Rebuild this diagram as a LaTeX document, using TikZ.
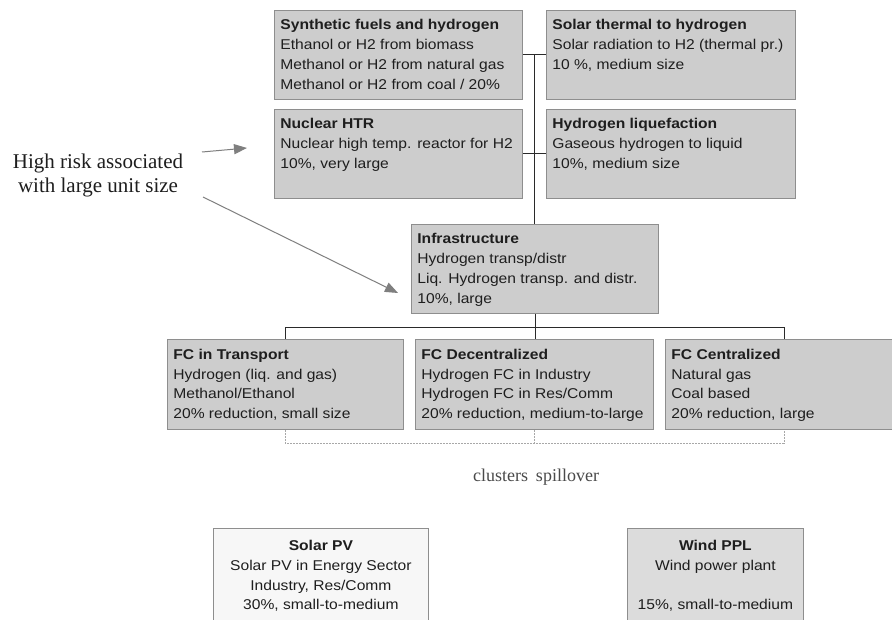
\documentclass[tikz,border=0pt]{standalone}
\usepackage{fontspec}
\usetikzlibrary{arrows.meta,calc}
\newfontfamily\boxfont{Liberation Sans}[FakeStretch=1.1]
\newfontfamily\serfont{Liberation Serif}
\definecolor{boxfill}{HTML}{CDCDCD}
\definecolor{boxline}{HTML}{8E8E8E}
\definecolor{pvfill}{HTML}{F7F7F7}
\definecolor{windfill}{HTML}{DCDCDC}
\definecolor{txt}{HTML}{1E1E1E}
\definecolor{conncol}{HTML}{2A2A2A}
\definecolor{arrcol}{HTML}{7F7F7F}
\definecolor{spillcol}{HTML}{A8A8A8}
\definecolor{spilltxt}{HTML}{4A4A4A}
% #1 height, #2 width, #3 alignment, #4 first-line strut, #5 content
\newcommand\bxt[5]{\parbox[t][#1pt][t]{#2pt}{\boxfont\fontsize{14.2}{19.8}\selectfont\color{txt}#3\rule{0pt}{#4pt}#5}}
\begin{document}
\begin{tikzpicture}[x=1pt,y=-1pt,
  hbox/.style={draw=boxline, fill=boxfill, anchor=north west, inner xsep=6pt, inner ysep=0pt, line width=0.8pt},
  conn/.style={draw=conncol, line width=0.8pt},
  spill/.style={draw=spillcol, line width=0.7pt, dash pattern=on 2pt off 1pt},
  riskarrow/.style={draw=arrcol, line width=1pt, -{Triangle[length=13pt,width=10pt]}, arrcol},
  serif/.style={font=\serfont\fontsize{21}{24}\selectfont, text=txt, align=center}
]
\useasboundingbox (0,0) rectangle (892,620);
\clip (0,0) rectangle (892,620);
\fill[white] (0,0) rectangle (892,620);

\node[hbox] (syn) at (274,10) {\bxt{89}{236}{\raggedright}{19.5}{\textbf{Synthetic fuels and hydrogen}\\Ethanol or H2 from biomass\\Methanol or H2 from natural gas\\Methanol or H2 from coal / 20\%}};
\node[hbox] (solth) at (546,10) {\bxt{89}{237}{\raggedright}{19.5}{\textbf{Solar thermal to hydrogen}\\Solar radiation to H2 (thermal pr.)\\10 \%, medium size}};
\node[hbox] (nuc) at (274,109) {\bxt{89}{236}{\raggedright}{19.5}{\textbf{Nuclear HTR}\\Nuclear high temp. reactor for H2\\10\%, very large}};
\node[hbox] (hliq) at (546,109) {\bxt{89}{237}{\raggedright}{19.5}{\textbf{Hydrogen liquefaction}\\Gaseous hydrogen to liquid\\10\%, medium size}};
\node[hbox] (infra) at (411,224) {\bxt{89}{235}{\raggedright}{19.5}{\textbf{Infrastructure}\\Hydrogen transp/distr\\Liq. Hydrogen transp. and distr.\\10\%, large}};
\node[hbox] (fct) at (167,339) {\bxt{90}{224}{\raggedright}{20}{\textbf{FC in Transport}\\Hydrogen (liq. and gas)\\Methanol/Ethanol\\20\% reduction, small size}};
\node[hbox] (fcd) at (415,339) {\bxt{90}{226}{\raggedright}{20}{\textbf{FC Decentralized}\\Hydrogen FC in Industry\\Hydrogen FC in Res/Comm\\20\% reduction, medium-to-large}};
\node[hbox] (fcc) at (665,339) {\bxt{90}{225}{\raggedright}{20}{\textbf{FC Centralized}\\Natural gas\\Coal based\\20\% reduction, large}};
\node[hbox, fill=pvfill] (spv) at (213,528) {\bxt{100}{203}{\centering}{22}{\textbf{Solar PV}\\Solar PV in Energy Sector\\Industry, Res/Comm\\30\%, small-to-medium}};
\node[hbox, fill=windfill] (wind) at (627,528) {\bxt{100}{164}{\centering}{22}{\textbf{Wind PPL}\\Wind power plant\\\mbox{}\\15\%, small-to-medium}};

% connectors
\draw[conn] (syn.east) -- (solth.west);
\draw[conn] (nuc.east) -- (hliq.west);
\coordinate (j1) at ($(syn.east)!0.5!(solth.west)$);
\draw[conn] (j1) -- (j1 |- infra.north);
\coordinate (bus) at (0,327);
\draw[conn] (infra.south) -- (infra.south |- fcd.north);
\draw[conn] (fct.north) -- (fct.north |- bus) -- (fcc.north |- bus) -- (fcc.north);

% spillover bracket
\coordinate (dl) at (0,443);
\draw[spill] (fct.south) -- (fct.south |- dl) -- (fcc.south |- dl) -- (fcc.south);
\draw[spill] (fcd.south) -- (fcd.south |- dl);
\node[font=\serfont\fontsize{18}{20}\selectfont, text=spilltxt, anchor=base] (spl) at (536,481) {clusters\hspace{8pt}spillover};

% risk annotation
\node[serif] (risk) at (98,175) {High risk associated\\with large unit size};
\coordinate (a1s) at (202,152);
\coordinate (a1e) at (247,148);
\coordinate (a2s) at (203,197);
\coordinate (a2e) at (398,293);
\draw[riskarrow] (a1s) -- (a1e);
\draw[riskarrow] (a2s) -- (a2e);
\end{tikzpicture}
\end{document}
